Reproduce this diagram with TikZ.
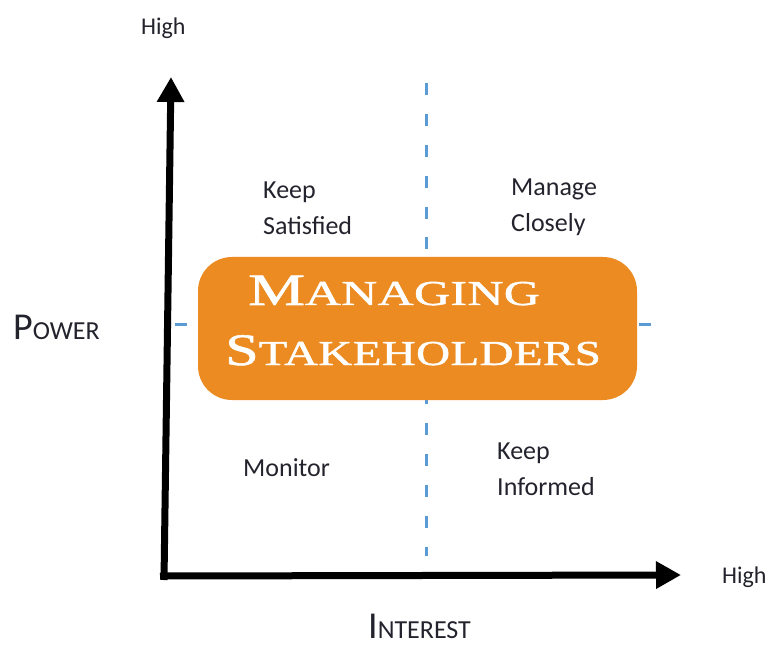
\documentclass[tikz,border=0pt]{standalone}
\usepackage{fontspec}
\setmainfont{Carlito}
\newfontfamily\titlefont[LetterSpace=1, FakeBold=1.2]{Liberation Serif}
\usetikzlibrary{arrows.meta, positioning}
\definecolor{stakeorange}{RGB}{236,139,33}
\definecolor{gridblue}{RGB}{91,155,213}
\definecolor{inkgray}{RGB}{35,35,45}
\newcommand{\fakesc}[4]{{\fontsize{#1}{#1}\selectfont #3}{\fontsize{#2}{#2}\selectfont #4}}

\begin{document}
\begin{tikzpicture}[
  x=1pt, y=-1pt,
  every node/.style={text=inkgray, inner sep=0pt},
  quad/.style={font=\fontsize{26}{36}\selectfont, align=left, anchor=base west},
  high/.style={font=\fontsize{24}{28}\selectfont, anchor=base west},
  axis/.style={draw=black, line width=7pt, -{Triangle[length=25pt, width=26pt]}},
  guide/.style={draw=gridblue, line width=3pt, dash pattern=on 12pt off 18.9pt},
  banner/.style={fill=stakeorange, rounded corners=34pt, minimum width=439pt, minimum height=143pt},
  bannertext/.style={text=white, anchor=base west}
]
  \useasboundingbox (0,0) rectangle (774,647);

  % Guides
  \coordinate (vtop) at (426,83);
  \coordinate (vbot) at (426,556);
  \coordinate (hleft) at (175,324);
  \coordinate (hright) at (651,324);
  \draw[guide] (vtop) -- (vbot);
  \draw[guide] (hleft) -- (hright);

  % Banner
  \node[banner] (banner) at (417.5,328.5) {};
  \node[bannertext] (manag) at (248,305) {\scalebox{1.42}[1]{\titlefont\fakesc{45}{35}{M}{ANAGING}}};
  \node[bannertext] (stake) at (225,365) {\scalebox{1.34}[1]{\titlefont\fakesc{45}{35}{S}{TAKEHOLDERS}}};

  % Axes
  \coordinate (origin) at (164,580);
  \coordinate (ytip) at (171,77);
  \coordinate (xstart) at (160,576);
  \coordinate (xtip) at (681,575);
  \draw[axis] (origin) -- (ytip);
  \draw[axis] (xstart) -- (xtip);

  \node[high] (yhigh) at (141,35) {High};
  \node[high] (xhigh) at (722,583) {High};
  \node[anchor=base west] (power) at (13,339) {\fakesc{38}{26}{P}{OWER}};
  \node[anchor=base west] (interest) at (368,638) {\fakesc{38}{26}{I}{NTEREST}};

  % Quadrants
  \node[quad] (satisfied) at (263,235) {Keep\\Satisfied};
  \node[quad] (closely) at (511,232) {Manage\\Closely};
  \node[quad] (monitor) at (243,476) {Monitor};
  \node[quad] (informed) at (497,495) {Keep\\Informed};

\end{tikzpicture}
\end{document}
